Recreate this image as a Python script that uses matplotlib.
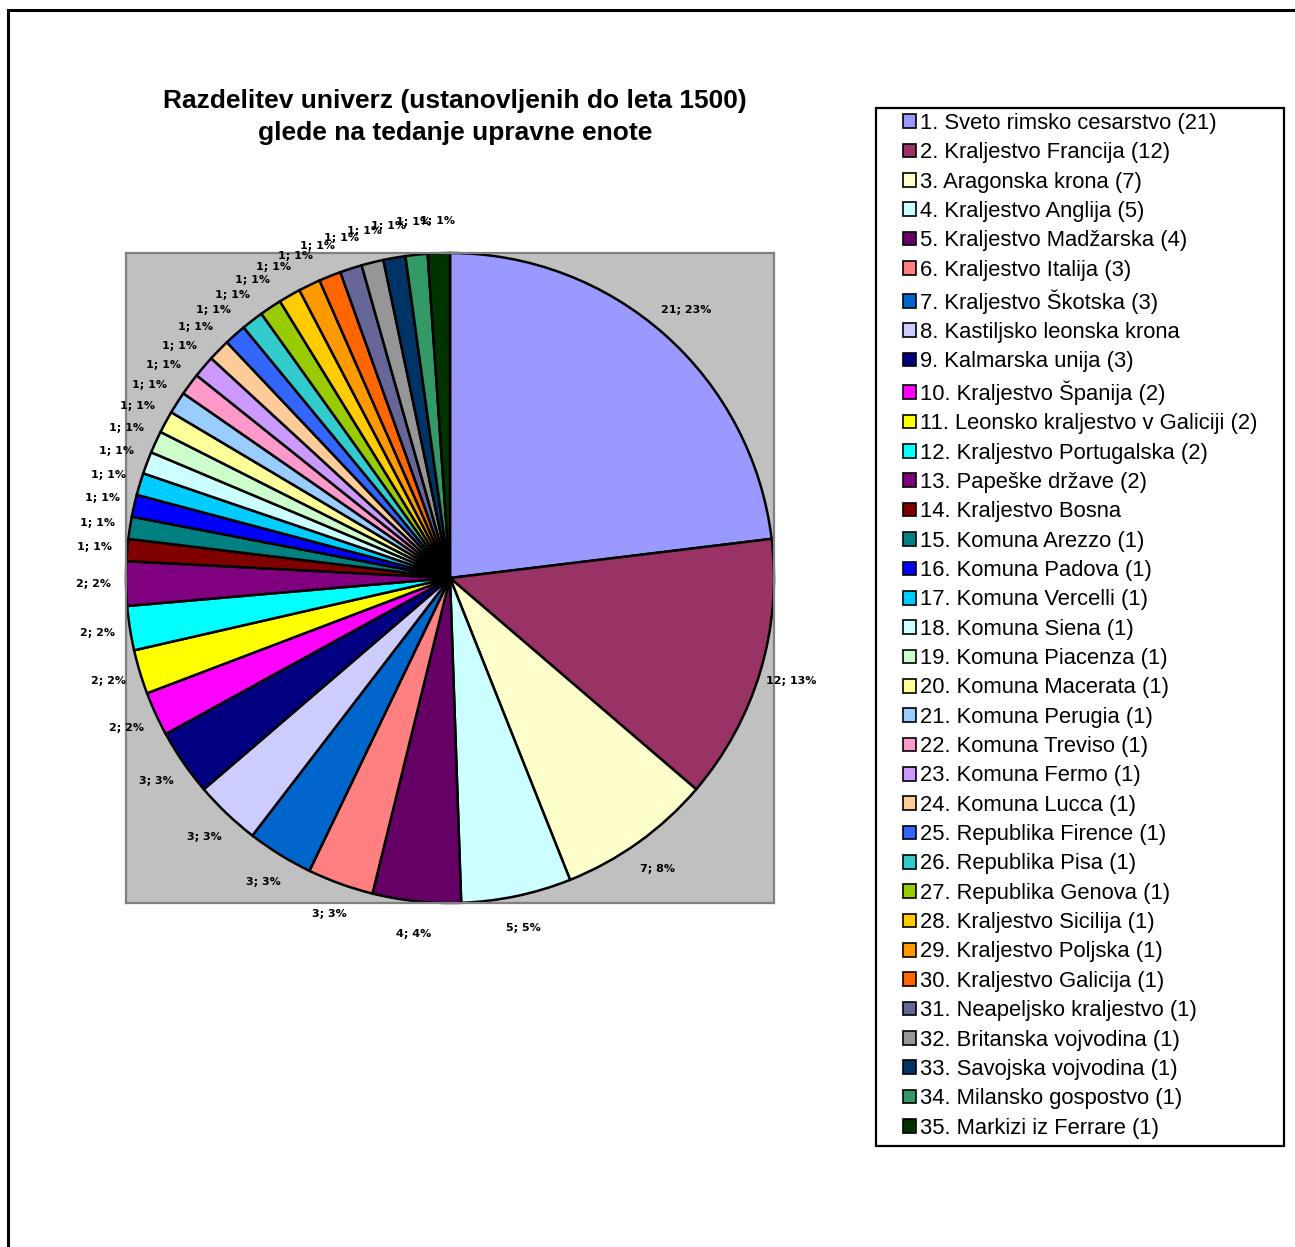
import matplotlib
matplotlib.use("Agg")
import matplotlib.pyplot as plt
from matplotlib.patches import Patch, Rectangle

W, H = 1295, 1247

names = [
    "1. Sveto rimsko cesarstvo (21)", "2. Kraljestvo Francija (12)", "3. Aragonska krona (7)",
    "4. Kraljestvo Anglija (5)", "5. Kraljestvo Madžarska (4)", "6. Kraljestvo Italija (3)",
    "7. Kraljestvo Škotska (3)", "8. Kastiljsko leonska krona", "9. Kalmarska unija (3)",
    "10. Kraljestvo Španija (2)", "11. Leonsko kraljestvo v Galiciji (2)",
    "12. Kraljestvo Portugalska (2)", "13. Papeške države (2)", "14. Kraljestvo Bosna",
    "15. Komuna Arezzo (1)", "16. Komuna Padova (1)", "17. Komuna Vercelli (1)",
    "18. Komuna Siena (1)", "19. Komuna Piacenza (1)", "20. Komuna Macerata (1)",
    "21. Komuna Perugia (1)", "22. Komuna Treviso (1)", "23. Komuna Fermo (1)",
    "24. Komuna Lucca (1)", "25. Republika Firence (1)", "26. Republika Pisa (1)",
    "27. Republika Genova (1)", "28. Kraljestvo Sicilija (1)", "29. Kraljestvo Poljska (1)",
    "30. Kraljestvo Galicija (1)", "31. Neapeljsko kraljestvo (1)", "32. Britanska vojvodina (1)",
    "33. Savojska vojvodina (1)", "34. Milansko gospostvo (1)", "35. Markizi iz Ferrare (1)",
]
counts = [21, 12, 7, 5, 4, 3, 3, 3, 3, 2, 2, 2, 2] + [1] * 22
colors = [
    "#9999FF", "#993366", "#FFFFCC", "#CCFFFF", "#660066", "#FF8080", "#0066CC",
    "#CCCCFF", "#000080", "#FF00FF", "#FFFF00", "#00FFFF", "#800080", "#800000",
    "#008080", "#0000FF", "#00CCFF", "#CCFFFF", "#CCFFCC", "#FFFF99", "#99CCFF",
    "#FF99CC", "#CC99FF", "#FFCC99", "#3366FF", "#33CCCC", "#99CC00", "#FFCC00",
    "#FF9900", "#FF6600", "#666699", "#969696", "#003366", "#339966", "#003300",
]
title = "Razdelitev univerz (ustanovljenih do leta 1500)\nglede na tedanje upravne enote"

total = sum(counts)

def fmt(pct):
    val = int(round(pct * total / 100.0))
    return f"{val}; {pct:.0f}%"

fig = plt.figure(figsize=(W / 100, H / 100), dpi=100)

# outer chart border (only top and left visible)
fig.patches.append(Rectangle((8 / W, -0.1), 1.2, 1 - 10 / H + 0.1, transform=fig.transFigure,
                             fill=False, edgecolor="black", linewidth=2.2))

ax = fig.add_axes([126 / W, 1 - 903 / H, 648 / W, 650 / H])

wedges, texts, autotexts = ax.pie(
    counts, colors=colors, startangle=90, counterclock=False, radius=1,
    autopct=fmt, pctdistance=1.1,
    wedgeprops=dict(edgecolor="black", linewidth=1.8),
    textprops=dict(fontsize=8, fontweight="bold", family="DejaVu Sans"),
)
ax.set_frame_on(True)
ax.set_facecolor("#C0C0C0")
for s in ax.spines.values():
    s.set_visible(True)
    s.set_edgecolor("#808080")
    s.set_linewidth(1.6)
ax.set_xlim(-1, 1)
ax.set_ylim(-1, 1)
ax.set_aspect("auto")
ax.set_xticks([])
ax.set_yticks([])

fig.text(455 / W, 1 - 117 / H, title, ha="center", va="center", fontsize=19,
         fontweight="bold", family="Liberation Sans", linespacing=1.4)

# legend frame
fig.patches.append(Rectangle((876 / W, 1 - 1146 / H), 408 / W, 1038 / H, transform=fig.transFigure,
                             fill=False, edgecolor="black", linewidth=1.6))

handles = [Patch(facecolor=c, edgecolor="black", linewidth=1.2) for c in colors]
leg = fig.legend(handles, names, loc="upper left", bbox_to_anchor=(903 / W, 1 - 113 / H),
                 frameon=False, borderaxespad=0, borderpad=0,
                 prop=dict(family="Liberation Sans", size=15.8),
                 handlelength=0.58, handleheight=0.58, handletextpad=0.2, labelspacing=0.38)

fig.savefig("out.png", dpi=100)
